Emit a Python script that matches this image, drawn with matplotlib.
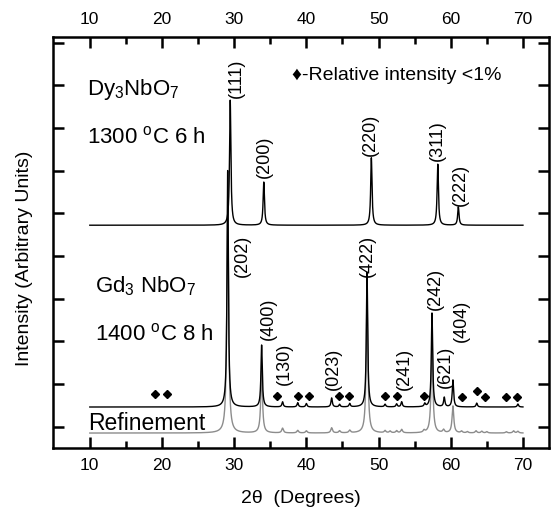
import numpy as np
import matplotlib
matplotlib.use("Agg")
import matplotlib.pyplot as plt

plt.rcParams["font.family"] = ["Liberation Sans", "DejaVu Sans"]
plt.rcParams["mathtext.fontset"] = "custom"
plt.rcParams["mathtext.rm"] = "Liberation Sans"
plt.rcParams["mathtext.it"] = "Liberation Sans:italic"

# Dy3NbO7 pattern: peak positions (2theta), amplitudes above baseline
dy_base = 5.22
dy_pos = [29.45, 34.1, 49.0, 58.2, 61.05]
dy_amp = [2.93, 1.01, 1.58, 1.43, 0.43]
dy_hkl = ["(111)", "(200)", "(220)", "(311)", "(222)"]
dy_lab_x = [30.35, 34.2, 48.85, 58.2, 61.4]
dy_lab_y = [8.2, 6.32, 6.85, 6.72, 5.66]

# Gd3NbO7 measured pattern
gd_base = 0.96
gd_pos = [29.1, 33.8, 36.7, 38.8, 40.0, 43.5, 44.6, 46.0, 48.4, 50.9, 52.5,
          53.2, 56.4, 57.4, 59.1, 60.3, 63.6, 69.3]
gd_amp = [5.54, 1.45, 0.12, 0.10, 0.08, 0.21, 0.06, 0.08, 3.16, 0.06, 0.07,
          0.12, 0.07, 2.20, 0.22, 0.63, 0.09, 0.07]

# Rietveld refinement curve
ref_base = 0.35
ref_pos = [29.1, 33.8, 36.7, 38.8, 40.0, 43.5, 44.6, 46.0, 48.4, 50.9, 51.6,
           52.5, 53.2, 56.3, 57.4, 59.0, 60.3, 61.5, 62.3, 63.5, 64.3, 65.0,
           67.7, 68.7, 69.3]
ref_amp = [5.54, 1.45, 0.11, 0.06, 0.05, 0.12, 0.05, 0.06, 3.16, 0.05, 0.04,
           0.05, 0.08, 0.05, 2.20, 0.07, 0.63, 0.04, 0.03, 0.05, 0.04, 0.03,
           0.03, 0.05, 0.04]

gd_hkl = ["(202)", "(400)", "(130)", "(023)", "(422)", "(241)", "(242)",
          "(621)", "(404)"]
gd_lab_x = [31.2, 34.7, 37.0, 43.7, 48.5, 53.6, 57.9, 59.2, 61.5]
gd_lab_y = [4.0, 2.53, 1.48, 1.36, 4.0, 1.36, 3.23, 1.41, 2.48]

# weak reflections (<1%)
dia_x = [19.0, 20.7, 35.9, 38.8, 40.3, 44.5, 45.9, 50.9, 52.5, 56.3, 61.5,
         63.7, 64.7, 67.7, 69.2]
dia_y = [1.26, 1.26, 1.22, 1.22, 1.22, 1.22, 1.22, 1.22, 1.22, 1.22, 1.20,
         1.33, 1.20, 1.20, 1.20]


def pattern(tt, base, pos, amp, hw):
    y = np.full_like(tt, base)
    for p, a in zip(pos, amp):
        y += a / (1 + ((tt - p) / hw) ** 2)
    return y


tt = np.linspace(10, 70, 6001)

fig = plt.figure(figsize=(5.59, 5.07), dpi=100)
ax = fig.add_axes([0.0948, 0.1164, 0.8872, 0.8106])

ax.plot(tt, pattern(tt, ref_base, ref_pos, ref_amp, 0.14), color="#8c8c8c", lw=1.0)
ax.plot(tt, pattern(tt, gd_base, gd_pos, gd_amp, 0.11), color="black", lw=1.0)
ax.plot(tt, pattern(tt, dy_base, dy_pos, dy_amp, 0.11), color="black", lw=1.0)
ax.plot(dia_x, dia_y, ls="none", marker="D", ms=4.3, color="black")

for lab, x, y in zip(dy_hkl + gd_hkl, dy_lab_x + gd_lab_x, dy_lab_y + gd_lab_y):
    ax.text(x, y, lab, rotation=90, ha="center", va="bottom", fontsize=13)

ax.text(9.6, 8.27, r"Dy$_3$NbO$_7$", fontsize=16, va="baseline")
ax.text(9.6, 7.14, r"1300 $^{\rm o}$C 6 h", fontsize=16, va="baseline")
ax.text(10.7, 3.65, r"Gd$_3$ NbO$_7$", fontsize=16, va="baseline")
ax.text(10.7, 2.53, r"1400 $^{\rm o}$C 8 h", fontsize=16, va="baseline")
ax.text(9.7, 0.42, "Refinement", fontsize=16.5, va="baseline")
ax.text(38.0, 8.62, "\u2666-Relative intensity <1%", fontsize=14, va="baseline")

ax.set_xlim(4.9, 73.6)
ax.set_ylim(0, 9.63)
ax.set_xticks(np.arange(10, 71, 10))
ax.set_xticks(np.arange(15, 70, 10), minor=True)
ax.set_yticks(np.arange(0.5, 9.6, 1.0))
ax.set_yticklabels([])
ax.tick_params(which="both", direction="in", top=True, right=True,
               labeltop=True, width=1.8, labelsize=12.5, pad=7)
ax.tick_params(which="major", length=8)
ax.tick_params(which="minor", length=5)
for s in ax.spines.values():
    s.set_linewidth(1.8)

ax.set_xlabel("2\u03b8  (Degrees)", fontsize=14)
ax.xaxis.set_label_coords(0.5, -0.102)
ax.set_ylabel("Intensity (Arbitrary Units)", fontsize=14)
ax.yaxis.set_label_coords(-0.040, 0.462)

fig.savefig("out.png", dpi=100)
